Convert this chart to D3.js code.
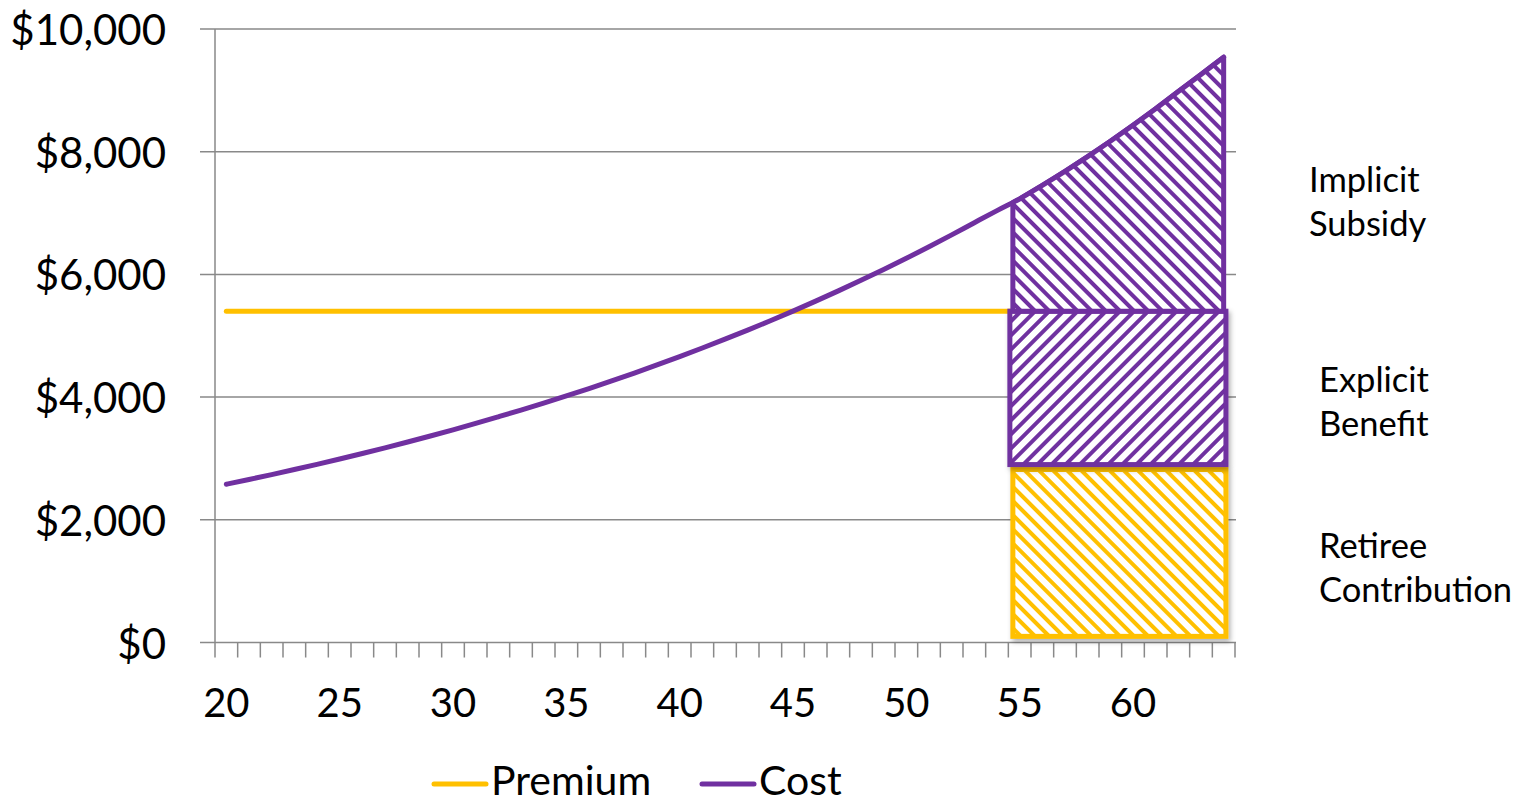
<!DOCTYPE html>
<html>
<head>
<meta charset="utf-8">
<script src="https://cdn.jsdelivr.net/npm/d3@7"></script>
<style>
  html, body { margin: 0; padding: 0; background: #ffffff; }
  svg { display: block; }
  text { font-family: Lato, "Open Sans", sans-serif; fill: #000; }
</style>
</head>
<body>
<svg id="chart" width="1526" height="805"></svg>
<script>
// ---- data ----
const ages = [20,21,22,23,24,25,26,27,28,29,30,31,32,33,34,35,36,37,38,39,40,41,42,43,44,
              45,46,47,48,49,50,51,52,53,54,55,56,57,58,59,60,61,62,63,64];
const cost = [2580,2657,2737,2819,2904,2991,3081,3173,3268,3366,3467,3571,3679,3789,3903,
              4020,4140,4264,4392,4524,4660,4800,4944,5092,5245,5402,5564,5731,5903,6080,
              6262,6450,6644,6843,7040,7230,7450,7680,7920,8170,8430,8700,8980,9260,9540];
const premium = ages.map(() => 5400);
const yTicks = [0, 2000, 4000, 6000, 8000, 10000];
const xLabels = [20, 25, 30, 35, 40, 45, 50, 55, 60];
const seriesNames = ["Premium", "Cost"];
const retireeAges = [55, 64];
const segmentNames = ["Retiree Contribution", "Explicit Benefit", "Implicit Subsidy"];
const segmentLow = [100, 2900, 5400];
const segmentHigh = [2820, 5400, null]; // implicit subsidy top follows the cost curve
const segmentLabels = [["Retiree", "Contribution"], ["Explicit", "Benefit"], ["Implicit", "Subsidy"]];

// ---- style ----
const YELLOW = "#FFC000", PURPLE = "#7030A0", GRID = "#898989";

const svg = d3.select("#chart");
const x = d3.scaleBand().domain(ages).range([215, 1235]).padding(0);
const y = d3.scaleLinear().domain([0, 10000]).range([642.5, 29]);
const bw = x.bandwidth();
const cx = a => x(a) + bw / 2;

// patterns
const defs = svg.append("defs");
function hatch(id, color, angle) {
  const p = defs.append("pattern").attr("id", id)
    .attr("patternUnits", "userSpaceOnUse").attr("width", 10).attr("height", 10)
    .attr("patternTransform", `rotate(${angle})`);
  p.append("rect").attr("width", 10).attr("height", 10).attr("fill", "#fff");
  p.append("line").attr("x1", 2).attr("y1", -2).attr("x2", 2).attr("y2", 12)
    .attr("stroke", color).attr("stroke-width", 4).attr("shape-rendering", "crispEdges");
}
hatch("hatchYellow", YELLOW, -45);
hatch("hatchPurpleA", PURPLE, 45);
hatch("hatchPurpleB", PURPLE, -45);
const f = defs.append("filter").attr("id", "shadow").attr("x", "-10%").attr("y", "-10%")
  .attr("width", "130%").attr("height", "130%");
f.append("feDropShadow").attr("dx", 2).attr("dy", 3).attr("stdDeviation", 2.5)
  .attr("flood-color", "#000").attr("flood-opacity", 0.3);

// gridlines
svg.append("g").selectAll("line").data(yTicks).join("line")
  .attr("x1", 200).attr("x2", 1236)
  .attr("y1", d => y(d)).attr("y2", d => y(d))
  .attr("stroke", GRID).attr("stroke-width", 1.5);

// y axis line
svg.append("line").attr("x1", 215).attr("x2", 215)
  .attr("y1", y(10000)).attr("y2", y(0))
  .attr("stroke", GRID).attr("stroke-width", 1.5);

// x axis ticks (category boundaries)
const bounds = ages.map(a => x(a)).concat([x(ages[ages.length - 1]) + bw]);
svg.append("g").selectAll("line").data(bounds).join("line")
  .attr("x1", d => d).attr("x2", d => d)
  .attr("y1", y(0)).attr("y2", y(0) + 15)
  .attr("stroke", GRID).attr("stroke-width", 1.5);

// y labels
svg.append("g").selectAll("text").data(yTicks).join("text")
  .attr("x", 166).attr("y", d => y(d))
  .attr("text-anchor", "end").attr("dominant-baseline", "central")
  .attr("font-size", 42)
  .text(d => "$" + d3.format(",")(d));

// x labels
svg.append("g").selectAll("text").data(xLabels).join("text")
  .attr("x", d => cx(d)).attr("y", 717)
  .attr("text-anchor", "middle").attr("font-size", 40)
  .text(d => d);

// lines
const line = d3.line().x((d, i) => cx(ages[i])).y(d => y(d)).curve(d3.curveMonotoneX);
svg.append("path").datum(premium).attr("d", line)
  .attr("fill", "none").attr("stroke", YELLOW).attr("stroke-width", 5).attr("stroke-linecap", "round");
svg.append("path").datum(cost).attr("d", line)
  .attr("fill", "none").attr("stroke", PURPLE).attr("stroke-width", 5).attr("stroke-linecap", "round");

// stacked retiree boxes
const left = x(retireeAges[0]) + bw * 0.2;
const right = x(retireeAges[1]) + bw * 0.6;

// retiree contribution
svg.append("rect")
  .attr("x", left).attr("y", y(segmentHigh[0]))
  .attr("width", right - left).attr("height", y(segmentLow[0]) - y(segmentHigh[0]))
  .attr("fill", "url(#hatchYellow)").attr("stroke", YELLOW).attr("stroke-width", 5)
  .attr("filter", "url(#shadow)");

// explicit benefit
svg.append("rect")
  .attr("x", left - 3).attr("y", y(segmentHigh[1]))
  .attr("width", right - left + 3).attr("height", y(segmentLow[1]) - y(segmentHigh[1]))
  .attr("fill", "url(#hatchPurpleA)").attr("stroke", PURPLE).attr("stroke-width", 5)
  .attr("filter", "url(#shadow)");

// implicit subsidy polygon (top follows the cost curve)
const i0 = ages.indexOf(retireeAges[0]), i1 = ages.indexOf(retireeAges[1]);
const xPrev = cx(ages[i0 - 1]), xCur = cx(ages[i0]);
const tLeft = (left - xPrev) / (xCur - xPrev);
const costLeft = cost[i0 - 1] + (cost[i0] - cost[i0 - 1]) * tLeft;
const topPts = [[left, y(costLeft)]];
for (let i = i0; i <= i1; i++) topPts.push([cx(ages[i]), y(cost[i])]);
const rightX = cx(ages[i1]);
const poly = [[left, y(segmentLow[2])]].concat(topPts).concat([[rightX, y(segmentLow[2])]]);
svg.append("path")
  .attr("d", "M" + poly.map(p => p.join(",")).join("L") + "Z")
  .attr("fill", "url(#hatchPurpleB)").attr("stroke", PURPLE).attr("stroke-width", 5)
  .attr("stroke-linejoin", "round");

// segment labels
const labelPos = [[1319, 558], [1319, 392], [1309, 192]];
segmentLabels.forEach((lines, k) => {
  const t = svg.append("text").attr("font-size", 34.5)
    .attr("x", labelPos[k][0]).attr("y", labelPos[k][1]);
  lines.forEach((s, j) => t.append("tspan").attr("x", labelPos[k][0]).attr("dy", j === 0 ? 0 : 44).text(s));
});

// legend
const legend = svg.append("g");
const legendItems = [
  {name: seriesNames[0], color: YELLOW, x0: 434},
  {name: seriesNames[1], color: PURPLE, x0: 702}
];
legendItems.forEach(d => {
  legend.append("line").attr("x1", d.x0).attr("x2", d.x0 + 52)
    .attr("y1", 784).attr("y2", 784)
    .attr("stroke", d.color).attr("stroke-width", 5).attr("stroke-linecap", "round");
  legend.append("text").attr("x", d.x0 + 57).attr("y", 795)
    .attr("font-size", 41).text(d.name);
});
</script>
</body>
</html>
